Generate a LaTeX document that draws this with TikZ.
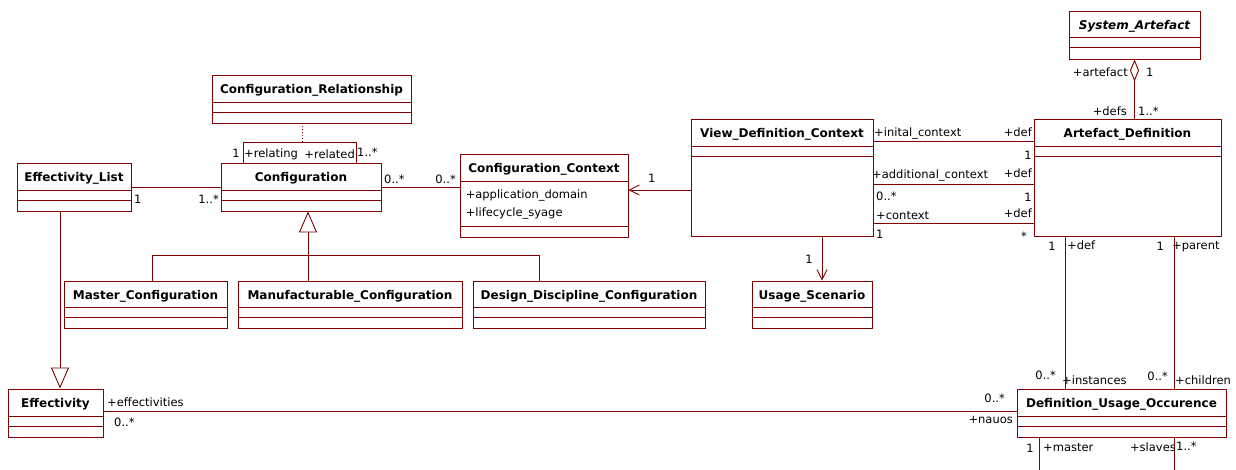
\documentclass[tikz,border=0pt]{standalone}
\usepackage{fontspec}
\setmainfont{DejaVu Sans}
\usetikzlibrary{arrows.meta,positioning,calc}

\definecolor{umlred}{HTML}{800000}
\newcommand{\rolefont}{\fontsize{11.5}{13}\selectfont}

% separators of a class box, measured down from its top edge
\newcommand{\compartments}[3]{%
  \draw[assoc] ([yshift=-#2pt]#1.north west) -- ([yshift=-#2pt]#1.north east);
  \draw[assoc] ([yshift=-#3pt]#1.north west) -- ([yshift=-#3pt]#1.north east);
}

\begin{document}
\begin{tikzpicture}[
    x=1pt, y=-1pt,
    cls/.style={
        draw=umlred, line width=0.9pt, fill=white, inner sep=0pt
    },
    clsname/.style={anchor=base, inner sep=0pt, font=\bfseries\fontsize{12}{14}\selectfont},
    attr/.style={anchor=base west, inner sep=0pt, font=\rolefont},
    role/.style={inner sep=0pt, font=\rolefont},
    assoc/.style={draw=umlred, line width=0.9pt},
    nav/.style={assoc, -{Straight Barb[length=10pt, width=10pt]}},
    inh/.style={assoc, -{Triangle[open, length=21pt, width=18pt]}},
    agg/.style={assoc, -{Diamond[open, length=22pt, width=9pt]}},
    assocclass/.style={assoc, dotted}
]
\useasboundingbox (0,0) rectangle (1236,469);

% 1. Configuration part
\node[cls, minimum width=199, minimum height=48] (crel) at (311.5,99) {};
\node[cls, minimum width=114, minimum height=48] (efflist) at (74,187) {};
\node[cls, minimum width=160, minimum height=48] (conf) at (301,187) {};
\node[cls, minimum width=168, minimum height=83] (cctx) at (544,195.5) {};
\node[cls, minimum width=163, minimum height=47] (master) at (145.5,304.5) {};
\node[cls, minimum width=224, minimum height=47] (manuf) at (350,304.5) {};
\node[cls, minimum width=232, minimum height=47] (design) at (589,304.5) {};
\node[cls, minimum width=95, minimum height=48] (eff) at (55.5,413) {};

% 2. Definition part
\node[cls, minimum width=182, minimum height=117] (vdc) at (782,177.5) {};
\node[cls, minimum width=120, minimum height=47] (usage) at (812,304.5) {};
\node[cls, minimum width=131, minimum height=48] (sysart) at (1134.5,35) {};
\node[cls, minimum width=187, minimum height=117] (artdef) at (1127.5,177.5) {};
\node[cls, minimum width=209, minimum height=48] (duo) at (1121.5,413) {};

% class names
\node[clsname] (crel-name) at ([yshift=-19pt]crel.north) {Configuration\_Relationship};
\node[clsname] (efflist-name) at ([yshift=-19pt]efflist.north) {Effectivity\_List};
\node[clsname] (conf-name) at ([yshift=-19pt]conf.north) {Configuration};
\node[clsname] (cctx-name) at ([yshift=-19pt]cctx.north) {Configuration\_Context};
\node[clsname] (master-name) at ([yshift=-19pt]master.north) {Master\_Configuration};
\node[clsname] (manuf-name) at ([yshift=-19pt]manuf.north) {Manufacturable\_Configuration};
\node[clsname] (design-name) at ([yshift=-19pt]design.north) {Design\_Discipline\_Configuration};
\node[clsname] (eff-name) at ([yshift=-19pt]eff.north) {Effectivity};
\node[clsname] (vdc-name) at ([yshift=-19pt]vdc.north) {View\_Definition\_Context};
\node[clsname] (usage-name) at ([yshift=-19pt]usage.north) {Usage\_Scenario};
\node[clsname] (sysart-name) at ([yshift=-19pt]sysart.north) {\itshape System\_Artefact};
\node[clsname] (artdef-name) at ([yshift=-19pt]artdef.north) {Artefact\_Definition};
\node[clsname] (duo-name) at ([yshift=-19pt]duo.north) {Definition\_Usage\_Occurence};

% attributes
\node[attr] (cctx-dom) at ([xshift=6pt,yshift=-45pt]cctx.north west) {+application\_domain};
\node[attr] (cctx-life) at ([xshift=6pt,yshift=-63pt]cctx.north west) {+lifecycle\_syage};

% compartments
\compartments{crel}{28}{38}
\compartments{efflist}{28}{38}
\compartments{conf}{28}{38}
\compartments{cctx}{28}{73}
\compartments{master}{27}{37}
\compartments{manuf}{27}{37}
\compartments{design}{27}{37}
\compartments{eff}{28}{38}
\compartments{vdc}{28}{38}
\compartments{usage}{27}{37}
\compartments{sysart}{27}{37}
\compartments{artdef}{28}{38}
\compartments{duo}{28}{38}

% Configuration
\coordinate (loop-l) at (243,142);
\coordinate (loop-m) at (302,142);
\coordinate (loop-r) at (356,142);
\draw[assoc] (loop-l |- conf.north) -- (loop-l) -- (loop-r) -- (loop-r |- conf.north);
\draw[assocclass] (loop-m |- crel.south) -- (loop-m);
\draw[assoc] (efflist.east) -- (conf.west);
\draw[assoc] (conf.east) -- (conf.east -| cctx.west);

\coordinate (tree-l) at (152,255);
\coordinate (tree-m) at (308,255);
\coordinate (tree-r) at (539,255);
\draw[inh] (tree-m) -- (tree-m |- conf.south);
\draw[assoc] (tree-l |- master.north) -- (tree-l) -- (tree-r) -- (tree-r |- design.north);
\draw[assoc] (tree-m) -- (tree-m |- manuf.north);

\coordinate (efflist-gen) at ([xshift=-14pt]efflist.south);
\draw[inh] (efflist-gen) -- (efflist-gen |- eff.north);
\draw[assoc] ([yshift=2pt]eff.east) -- ([yshift=2pt]duo.west);

% View definition
\coordinate (ctx-in) at ([yshift=5.5pt]cctx.east);
\draw[nav] (ctx-in -| vdc.west) -- (ctx-in);
\coordinate (scen-in) at ([xshift=10pt]usage.north);
\draw[nav] (scen-in |- vdc.south) -- (scen-in);
\foreach \dy in {23,66,105}
    \draw[assoc] ([yshift=-\dy pt]vdc.north east) -- ([yshift=-\dy pt]artdef.north west);

% Artefacts
\draw[agg] (artdef.north -| sysart.south) -- (sysart.south);
\coordinate (def-top) at ([xshift=-62.5pt]artdef.south);
\coordinate (parent-top) at ([xshift=46.5pt]artdef.south);
\draw[assoc] (def-top) -- (def-top |- duo.north);
\draw[assoc] (parent-top) -- (parent-top |- duo.north);
\coordinate (master-end) at (1039,475);
\coordinate (slaves-end) at (1174,475);
\draw[assoc] (master-end |- duo.south) -- (master-end);
\draw[assoc] (slaves-end |- duo.south) -- (slaves-end);

% role names and multiplicities
\node[role, anchor=base east] (m-relating) at (240,157) {1};
\node[role, anchor=base west] (r-relating) at (244,157) {+relating};
\node[role, anchor=base east] (r-related) at (355,158) {+related};
\node[role, anchor=base west] (m-related) at (357,156) {1..*};
\node[role, anchor=base west] (m-efflist) at (134,203) {1};
\node[role, anchor=base east] (m-conf) at (219,203) {1..*};
\node[role, anchor=base west] (m-conf-ctx) at (384,183) {0..*};
\node[role, anchor=base east] (m-ctx-conf) at (456,183) {0..*};
\node[role, anchor=base west] (m-ctx) at (648,182) {1};
\node[role, anchor=base east] (m-scen) at (813,263) {1};

\node[role, anchor=base west] (r-initial) at (874,136) {+inital\_context};
\node[role, anchor=base east] (r-def1) at (1032,136) {+def};
\node[role, anchor=base east] (m-def1) at (1032,159) {1};
\node[role, anchor=base west] (r-additional) at (872,178) {+additional\_context};
\node[role, anchor=base east] (r-def2) at (1032,177) {+def};
\node[role, anchor=base west] (m-additional) at (876,200) {0..*};
\node[role, anchor=base east] (m-def2) at (1032,201) {1};
\node[role, anchor=base west] (r-context) at (876,219) {+context};
\node[role, anchor=base east] (r-def3) at (1032,217) {+def};
\node[role, anchor=base west] (m-context) at (876,238) {1};
\node[role, anchor=base east] (m-def3) at (1027,240) {*};

\node[role, anchor=base east] (r-artefact) at (1128,76) {+artefact};
\node[role, anchor=base west] (m-artefact) at (1146,76) {1};
\node[role, anchor=base east] (r-defs) at (1127,115) {+defs};
\node[role, anchor=base west] (m-defs) at (1138,115) {1..*};

\node[role, anchor=base east] (m-def4) at (1056,250) {1};
\node[role, anchor=base west] (r-def4) at (1067,249) {+def};
\node[role, anchor=base east] (m-parent) at (1164,250) {1};
\node[role, anchor=base west] (r-parent) at (1172,249) {+parent};
\node[role, anchor=base east] (m-instances) at (1056,379) {0..*};
\node[role, anchor=base west] (r-instances) at (1062,384) {+instances};
\node[role, anchor=base east] (m-children) at (1168,380) {0..*};
\node[role, anchor=base west] (r-children) at (1175,384) {+children};
\node[role, anchor=base east] (m-master) at (1034,452) {1};
\node[role, anchor=base west] (r-master) at (1043,451) {+master};
\node[role, anchor=base east] (r-slaves) at (1176,451) {+slaves};
\node[role, anchor=base west] (m-slaves) at (1176,450) {1..*};

\node[role, anchor=base west] (r-effectivities) at (107,406) {+effectivities};
\node[role, anchor=base west] (m-effectivities) at (114,426) {0..*};
\node[role, anchor=base east] (m-nauos) at (1005,402) {0..*};
\node[role, anchor=base east] (r-nauos) at (1013,423) {+nauos};

\end{tikzpicture}
\end{document}
